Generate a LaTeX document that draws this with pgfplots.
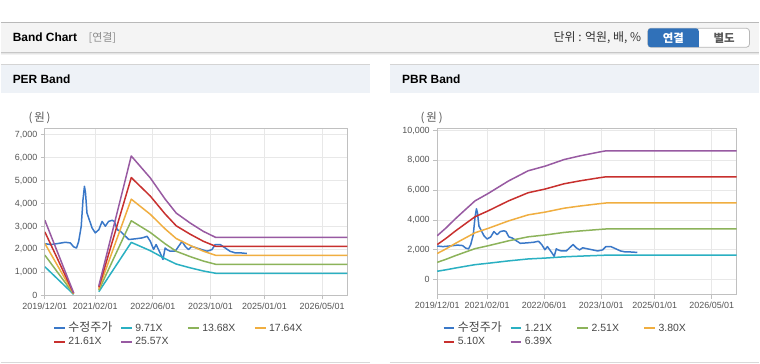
\documentclass[border=0pt]{standalone}
\usepackage{fontspec}
\setmainfont{Liberation Sans}
\newfontfamily\kr{Noto Sans CJK KR}
\usepackage{pgfplots}
\usepackage{pgfplotstable}
\pgfplotsset{compat=1.18}
\definecolor{cPrice}{HTML}{3A78C8}
\definecolor{cTeal}{HTML}{2AB0C2}
\definecolor{cGreen}{HTML}{8CB35A}
\definecolor{cOrange}{HTML}{F0AE40}
\definecolor{cRed}{HTML}{C8302E}
\definecolor{cPurple}{HTML}{985AA2}
\definecolor{gridc}{HTML}{E8E8E8}
\definecolor{framec}{HTML}{C0C0C0}
\definecolor{labc}{HTML}{555555}
\definecolor{hdrbar}{HTML}{F4F4F4}
\definecolor{panelbar}{HTML}{EEF2F7}
\definecolor{btnblue}{HTML}{3071B9}

\pgfplotstableread{
m v
0 2250
1.6 2210
3.4 2250
5.7 2310
7.1 2280
8.0 2110
8.8 2060
9.4 2350
10.1 3000
10.6 4170
11.0 4750
11.3 4460
11.7 3590
12.5 3220
13.1 2940
14.0 2720
15.0 2860
15.9 3220
16.8 3010
17.7 3220
18.7 3270
19.3 3220
20.1 2860
21.0 2790
22.4 2570
23.3 2430
25.1 2460
27.0 2500
28.4 2570
29.3 2350
30.2 2000
30.9 2210
32.0 1850
32.8 1560
33.4 2060
33.9 1990
34.8 1920
36.2 1920
38.1 2350
39.0 2130
39.9 1990
40.8 2130
42.2 2060
43.6 1990
45.0 1920
46.4 1990
47.3 2210
48.7 2210
50.1 2060
51.4 1920
52.8 1850
54.2 1850
56.1 1820
}\price

\pgfplotstableread{
m t g o r p
0 1243 1751 2258 2766 3273
8 39 55 71 86 102
11 nan nan nan nan nan
15 155 219 282 346 409
24 2306 3249 4190 5132 6073
29.3 1942 2736 3528 4322 5114
33.4 1592 2244 2893 3544 4193
36.5 1359 1915 2470 3025 3580
40.4 1194 1683 2170 2658 3145
44 1058 1491 1923 2355 2787
47.5 956 1347 1738 2129 2519
84 956 1347 1738 2129 2519
}\perband

\pgfplotstableread{
m t g o r p
0 557 1155 1748 2346 2939
2.5 657 1363 2063 2769 3470
5 768 1594 2413 3239 4058
7.8 885 1835 2778 3728 4671
10.6 999 2073 3139 4213 5278
14.3 1094 2269 3435 4610 5777
20 1252 2598 3933 5279 6614
25.5 1382 2866 4340 5824 7297
30.2 1440 2987 4522 6069 7604
35.6 1525 3163 4788 6426 8051
40 1571 3258 4932 6620 8294
45.6 1621 3363 5092 6834 8563
47.4 1636 3394 5138 6895 8639
84 1636 3394 5138 6895 8639
}\pbrband

\pgfplotsset{bandstyle/.style={
  scale only axis, xmin=0, xmax=84,
  xtick={0,14,30,46,61,77},
  xticklabels={2019/12/01,2021/02/01,2022/06/01,2023/10/01,2025/01/01,2026/05/01},
  grid=major, major grid style={gridc, line width=0.8bp},
  axis line style={framec, line width=1bp},
  tick style={framec, line width=0.8bp},
  tick align=outside, major tick length=4bp,
  xtick pos=bottom, ytick pos=left,
  ticklabel style={font=\fontsize{9}{10}\selectfont, text=labc},
  /pgf/number format/1000 sep={,},
  /pgf/number format/assume math mode=true,
  scaled y ticks=false,
  unbounded coords=jump,
  legend columns=4,
  legend image code/.code={\draw[##1, line width=2bp] (0bp,0bp) -- (10.7bp,0bp);},
  legend style={draw=none, fill=none, inner sep=0pt, outer sep=0pt, anchor=north west,
    font=\fontsize{10.5}{12}\selectfont, text=black!72,
    nodes={inner sep=0pt, text width=51.7bp, align=left, anchor=west, text height=7.5bp, text depth=2bp},
    /tikz/every odd column/.append style={column sep=2.6bp},
    row sep=3.8bp},
  every axis plot/.append style={line width=1.5bp, line join=round},
}}

\begin{document}
\begin{tikzpicture}
\begin{scope}[x=1bp,y=1bp]
\fill[white] (0,0) rectangle (760,364);
% top header
\fill[hdrbar] (0,312) rectangle (760,341.3);
\draw[gray!55, line width=1.2bp] (0,341.3) -- (760,341.3);
\draw[black!22, line width=0.8bp] (0,312) -- (760,312);
\draw[black!10, line width=0.8bp] (0,311) -- (760,311);
\draw[black!5, line width=0.8bp] (0,310) -- (760,310);
\node[anchor=west, inner sep=0pt, font=\fontsize{12}{14}\selectfont\bfseries] at (12,326.5) {Band Chart};
\node[anchor=west, inner sep=0pt, font=\kr\fontsize{11}{13}\selectfont, text=black!45] at (88,326.5) {[연결]};
\node[anchor=east, inner sep=0pt, font=\kr\fontsize{12}{14}\selectfont, text=black!80] at (641.7,326.5) {단위 : 억원, 배, \%};
\fill[white] (699.3,316.7) rectangle (750,335.7);
\draw[black!28, line width=0.8bp, rounded corners=3bp] (648.3,316.7) rectangle (750,335.7);
\fill[btnblue, rounded corners=3bp] (699.3,316.7) -- (648.3,316.7) -- (648.3,335.7) -- (699.3,335.7) [sharp corners] -- cycle;
\node[inner sep=0pt, font=\kr\fontsize{11.5}{13}\selectfont\bfseries, text=white] at (673.8,326.2) {연결};
\node[inner sep=0pt, font=\kr\fontsize{11.5}{13}\selectfont\bfseries, text=black!65] at (724.6,326.2) {별도};
% panel headers
\fill[panelbar] (0,271.3) rectangle (370,299.7);
\fill[panelbar] (390,271.3) rectangle (760,299.7);
\draw[black!17, line width=1bp] (0,299.7) -- (370,299.7);
\draw[black!17, line width=1bp] (390,299.7) -- (760,299.7);
\node[anchor=west, inner sep=0pt, font=\fontsize{12}{14}\selectfont\bfseries] at (12,284.5) {PER Band};
\node[anchor=west, inner sep=0pt, font=\fontsize{12}{14}\selectfont\bfseries] at (402,284.5) {PBR Band};
\draw[black!15, line width=1bp] (0,1.3) -- (370,1.3);
\draw[black!15, line width=1bp] (390,1.3) -- (760,1.3);
\node[inner sep=0pt, font=\kr\fontsize{11.5}{13}\selectfont, text=labc] at (39,246) {(\,원\,)};
\node[inner sep=0pt, font=\kr\fontsize{11.5}{13}\selectfont, text=labc] at (431.7,246) {(\,원\,)};
\end{scope}

\begin{axis}[bandstyle, at={(44.3bp,68.3bp)}, anchor=south west, width=303bp, height=167.4bp,
  ymin=0, ymax=7290, ytick={0,1000,...,7000},
  legend style={at={(axis description cs:0.0277,-0.1706)}}]
\addplot[cPrice] table[x=m,y=v]{\price};
\addlegendentry{{\kr\fontsize{12}{12}\selectfont 수정주가}}
\addplot[cTeal] table[x=m,y=t]{\perband};
\addlegendentry{9.71X}
\addplot[cGreen] table[x=m,y=g]{\perband};
\addlegendentry{13.68X}
\addplot[cOrange] table[x=m,y=o]{\perband};
\addlegendentry{17.64X}
\addplot[cRed] table[x=m,y=r]{\perband};
\addlegendentry{21.61X}
\addplot[cPurple] table[x=m,y=p]{\perband};
\addlegendentry{25.57X}
\end{axis}

\begin{axis}[bandstyle, at={(437.3bp,69bp)}, anchor=south west, width=300bp, height=166.7bp,
  ymin=-1005, ymax=10160, ytick={0,2000,...,10000},
  legend style={at={(axis description cs:0.018,-0.1755)}}]
\addplot[cPrice] table[x=m,y=v]{\price};
\addlegendentry{{\kr\fontsize{12}{12}\selectfont 수정주가}}
\addplot[cTeal] table[x=m,y=t]{\pbrband};
\addlegendentry{1.21X}
\addplot[cGreen] table[x=m,y=g]{\pbrband};
\addlegendentry{2.51X}
\addplot[cOrange] table[x=m,y=o]{\pbrband};
\addlegendentry{3.80X}
\addplot[cRed] table[x=m,y=r]{\pbrband};
\addlegendentry{5.10X}
\addplot[cPurple] table[x=m,y=p]{\pbrband};
\addlegendentry{6.39X}
\end{axis}
\end{tikzpicture}
\end{document}
